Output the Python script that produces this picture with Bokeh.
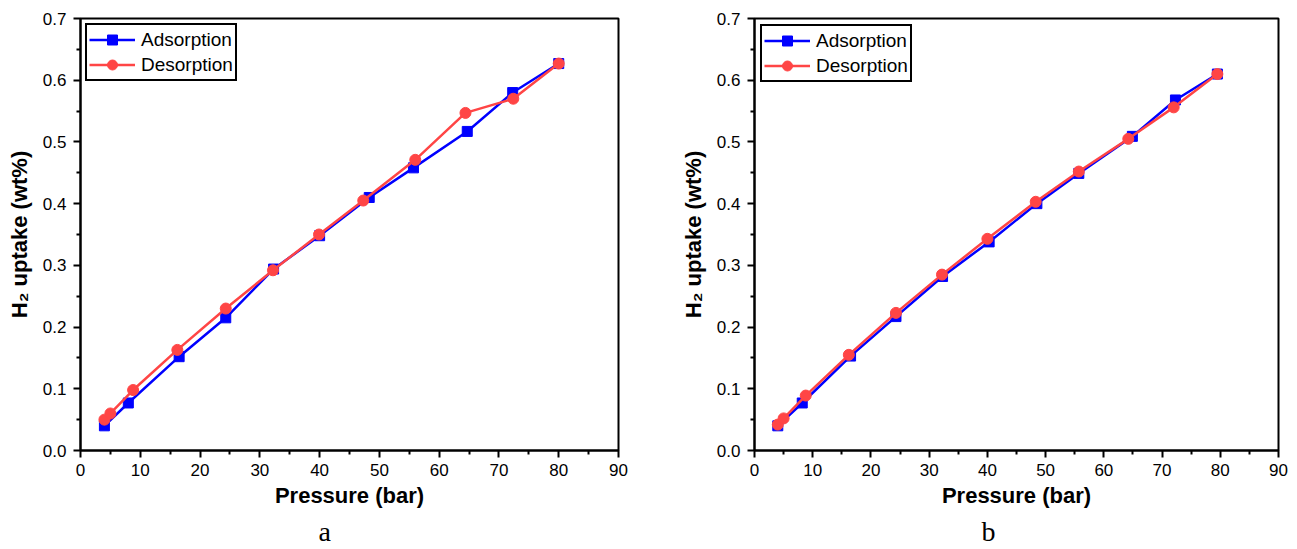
from bokeh.plotting import figure
from bokeh.layouts import row
from bokeh.models import Range1d, FixedTicker, NumeralTickFormatter, Title
from bokeh.embed import file_html
from bokeh.resources import INLINE

# ---- Panel a: H2 uptake vs pressure ----
a_ads_pressure = [4.0, 8.0, 16.5, 24.3, 32.3, 40.0, 48.3, 55.7, 64.7, 72.3, 80.0]
a_ads_uptake = [0.040, 0.077, 0.152, 0.215, 0.294, 0.348, 0.410, 0.458, 0.517, 0.580, 0.627]
a_des_pressure = [4.0, 5.0, 8.8, 16.2, 24.3, 32.2, 39.9, 47.3, 56.0, 64.4, 72.4, 80.0]
a_des_uptake = [0.050, 0.060, 0.098, 0.163, 0.230, 0.292, 0.350, 0.405, 0.471, 0.547, 0.570, 0.627]

# ---- Panel b ----
b_ads_pressure = [4.0, 8.2, 16.5, 24.3, 32.3, 40.3, 48.5, 55.7, 64.9, 72.3, 79.5]
b_ads_uptake = [0.040, 0.077, 0.153, 0.217, 0.282, 0.338, 0.400, 0.449, 0.509, 0.568, 0.610]
b_des_pressure = [4.0, 5.0, 8.8, 16.2, 24.3, 32.2, 40.0, 48.3, 55.7, 64.2, 72.0, 79.5]
b_des_uptake = [0.042, 0.052, 0.089, 0.155, 0.223, 0.285, 0.343, 0.403, 0.452, 0.505, 0.556, 0.610]

series_names = ["Adsorption", "Desorption"]
x_label = "Pressure (bar)"
y_label = "H\u2082 uptake (wt%)"

# axis ticks
x_major = [0, 10, 20, 30, 40, 50, 60, 70, 80, 90]
x_minor = [5, 15, 25, 35, 45, 55, 65, 75, 85]
y_major = [0.0, 0.1, 0.2, 0.3, 0.4, 0.5, 0.6, 0.7]
y_minor = [0.05, 0.15, 0.25, 0.35, 0.45, 0.55, 0.65]

BLUE = "#0000FF"
RED = "#FF4545"
SANS = "Liberation Sans"


def make_panel(ads_x, ads_y, des_x, des_y, tag, width, left, right, top,
               legend_margin, tag_offset):
    p = figure(width=width, height=549, output_backend="svg", toolbar_location=None,
               x_range=Range1d(0, 90), y_range=Range1d(0, 0.7),
               min_border_left=left, min_border_right=right,
               min_border_top=top, min_border_bottom=98,
               background_fill_color="white", border_fill_color="white")
    p.grid.visible = False
    p.outline_line_color = "black"
    p.outline_line_width = 2
    p.outline_line_alpha = 1

    p.xaxis.ticker = FixedTicker(ticks=x_major, minor_ticks=x_minor)
    p.yaxis.ticker = FixedTicker(ticks=y_major, minor_ticks=y_minor)
    p.yaxis.formatter = NumeralTickFormatter(format="0.0")

    for ax in (p.xaxis[0], p.yaxis[0]):
        ax.axis_line_width = 2
        ax.major_tick_line_width = 2
        ax.minor_tick_line_width = 2
        ax.major_tick_in = 0
        ax.major_tick_out = 7
        ax.minor_tick_in = 0
        ax.minor_tick_out = 4
        ax.major_label_text_font = SANS
        ax.major_label_text_font_size = "17px"
        ax.major_label_text_color = "black"
        ax.axis_label_text_font = SANS
        ax.axis_label_text_font_style = "bold"
        ax.axis_label_text_font_size = "22px"
        ax.axis_label_text_color = "black"

    p.xaxis.axis_label = x_label
    p.yaxis.axis_label = y_label
    p.xaxis.major_label_standoff = 6
    p.xaxis.axis_label_standoff = 4
    p.yaxis.major_label_standoff = 7
    p.yaxis.axis_label_standoff = 8

    p.line(ads_x, ads_y, line_color=BLUE, line_width=2.5, legend_label=series_names[0])
    p.scatter(ads_x, ads_y, marker="square", size=10, fill_color=BLUE,
              line_color=BLUE, legend_label=series_names[0])
    p.line(des_x, des_y, line_color=RED, line_width=2.5, legend_label=series_names[1])
    p.scatter(des_x, des_y, marker="circle", size=11, fill_color=RED,
              line_color=RED, legend_label=series_names[1])

    lg = p.legend[0]
    lg.location = "top_left"
    lg.margin = legend_margin
    lg.padding = 2
    lg.spacing = 0
    lg.glyph_width = 46
    lg.glyph_height = 25
    lg.label_height = 25
    lg.label_standoff = 6
    lg.label_text_font = SANS
    lg.label_text_font_size = "19px"
    lg.label_text_color = "black"
    lg.border_line_color = "black"
    lg.border_line_width = 2
    lg.border_line_alpha = 1
    lg.background_fill_alpha = 1

    # panel letter under the x axis title
    p.add_layout(Title(text=tag, align="left", offset=tag_offset, standoff=6,
                       text_font="Liberation Serif", text_font_size="28px",
                       text_font_style="normal", text_color="black"), "below")
    return p


pa = make_panel(a_ads_pressure, a_ads_uptake, a_des_pressure, a_des_uptake, "a",
                width=670, left=80, right=52, top=17, legend_margin=5, tag_offset=238)
pb = make_panel(b_ads_pressure, b_ads_uptake, b_des_pressure, b_des_uptake, "b",
                width=627, left=84, right=19, top=18, legend_margin=6, tag_offset=227)

layout = row(pa, pb)
open("out.html", "w").write(file_html(layout, INLINE))
